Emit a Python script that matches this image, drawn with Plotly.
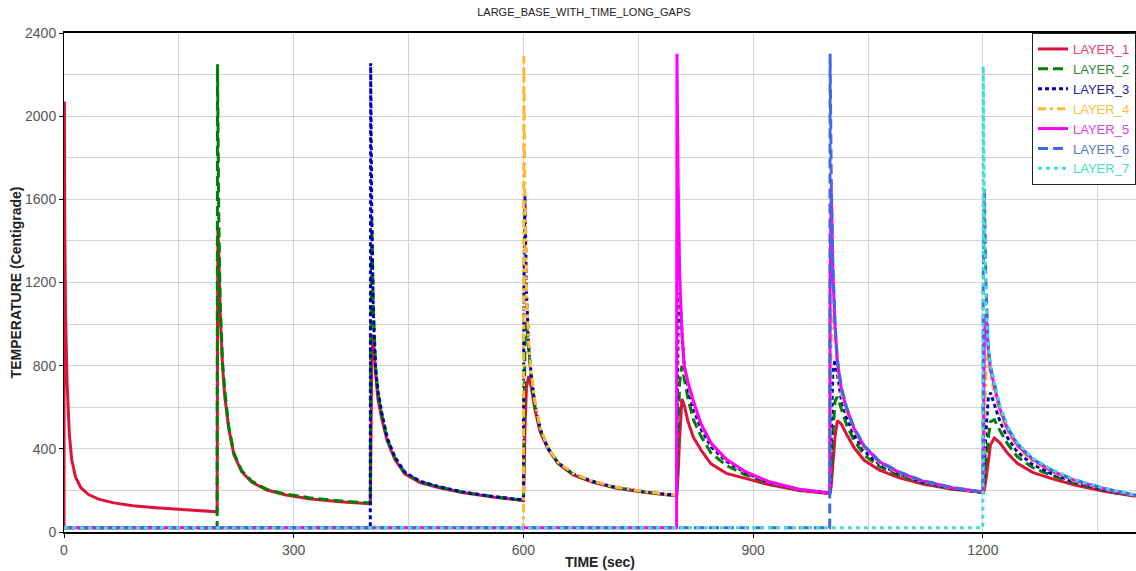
import plotly.graph_objects as go

# ---------------- data ----------------
TITLE = "LARGE_BASE_WITH_TIME_LONG_GAPS"
LAYER_NAMES = ["LAYER_1", "LAYER_2", "LAYER_3", "LAYER_4", "LAYER_5", "LAYER_6", "LAYER_7"]
SEGMENT_STARTS = [0, 200, 400, 600, 800, 1000, 1200]          # deposition time of each layer (sec)
TIME_OFFSETS = [0, 0.5, 1, 2, 4, 7, 10, 15, 22, 32, 45, 65, 90, 120, 160, 199.5]
AMBIENT = 20                                                  # temperature before a layer is deposited

# temperatures per segment (one row per segment from the layer's own deposition onward)
LAYER_1 = [
    [20, 2070, 1450, 1050, 720, 470, 350, 265, 213, 180, 158, 140, 126, 117, 106, 97],
    [97, 1000, 1450, 1350, 1050, 800, 650, 500, 370, 290, 240, 202, 178, 160, 146, 136],
    [136, 300, 550, 850, 950, 760, 640, 545, 440, 350, 280, 238, 213, 190, 168, 151],
    [151, 200, 300, 500, 700, 750, 700, 590, 480, 400, 330, 275, 240, 212, 190, 174],
    [174, 185, 210, 280, 450, 640, 610, 530, 455, 394, 328, 282, 258, 228, 199, 184],
    [184, 188, 195, 220, 320, 460, 535, 520, 470, 405, 345, 298, 262, 232, 205, 189],
    [189, 190, 193, 205, 250, 350, 420, 452, 430, 380, 330, 287, 257, 226, 195, 172],
]
LAYER_2 = [
    [20, 2250, 1900, 1550, 1100, 820, 680, 510, 378, 295, 245, 205, 182, 165, 150, 139],
    [139, 900, 1400, 1500, 1080, 790, 665, 565, 448, 358, 285, 242, 216, 192, 170, 153],
    [153, 350, 650, 900, 1010, 870, 740, 605, 490, 405, 333, 278, 243, 214, 191, 175],
    [175, 220, 320, 500, 720, 800, 740, 640, 540, 460, 380, 320, 275, 236, 203, 186],
    [186, 195, 220, 290, 460, 630, 650, 590, 515, 440, 370, 315, 273, 238, 208, 190],
    [190, 195, 205, 230, 320, 450, 530, 540, 490, 425, 362, 310, 272, 235, 200, 174],
]
LAYER_3 = [
    [20, 2255, 1900, 1500, 1050, 780, 680, 575, 455, 362, 288, 244, 218, 193, 171, 154],
    [154, 1100, 1550, 1620, 1150, 890, 760, 615, 495, 402, 334, 279, 244, 215, 192, 176],
    [176, 400, 700, 1000, 1150, 950, 800, 690, 590, 495, 410, 340, 284, 240, 205, 187],
    [187, 220, 320, 520, 760, 830, 760, 640, 550, 465, 390, 325, 280, 242, 210, 191],
    [191, 200, 225, 300, 480, 640, 670, 610, 535, 455, 385, 325, 280, 240, 202, 175],
]
LAYER_4 = [
    [20, 2290, 1950, 1600, 1150, 900, 770, 625, 500, 405, 336, 281, 245, 216, 193, 176],
    [176, 1200, 1600, 1650, 1220, 960, 790, 710, 620, 515, 425, 348, 289, 242, 206, 188],
    [188, 400, 700, 950, 1070, 930, 790, 670, 580, 487, 405, 333, 285, 245, 212, 192],
    [192, 220, 320, 520, 780, 860, 760, 670, 575, 482, 405, 340, 289, 245, 205, 176],
]
LAYER_5 = [
    [20, 2300, 2000, 1700, 1250, 950, 800, 720, 630, 520, 428, 350, 290, 243, 206, 188],
    [188, 1200, 1600, 1650, 1250, 990, 820, 690, 595, 497, 413, 338, 288, 247, 213, 193],
    [193, 400, 700, 950, 1050, 880, 780, 700, 595, 498, 418, 348, 294, 248, 207, 177],
]
LAYER_6 = [
    [20, 2300, 2000, 1700, 1300, 1000, 830, 700, 600, 500, 415, 340, 290, 248, 214, 193],
    [193, 1200, 1600, 1650, 1200, 900, 795, 715, 605, 505, 425, 352, 297, 250, 208, 177],
]
LAYER_7 = [
    [20, 2240, 1900, 1550, 1100, 900, 800, 720, 610, 510, 430, 355, 300, 252, 210, 178],
]
LAYERS = [LAYER_1, LAYER_2, LAYER_3, LAYER_4, LAYER_5, LAYER_6, LAYER_7]

X_TICKS = [0, 300, 600, 900, 1200]
Y_TICKS = [0, 400, 800, 1200, 1600, 2000, 2400]

# ---------------- styles ----------------
LINE_COLORS = ["#DC143C", "#007F00", "#0000B4", "#FFB830", "#FF00FF", "#4169E1", "#40E0D0"]
TEXT_COLORS = ["#E8406A", "#2E8B2E", "#2424A8", "#FFC040", "#E040E0", "#5A78C8", "#40E0C0"]
DASHES = ["solid", "10px,5px", "4px,3px", "8px,4px,3px,4px", "solid", "10px,5px", "4px,4px"]

FONT = "Arial, Liberation Sans, sans-serif"

fig = go.Figure()
for k, (name, segs) in enumerate(zip(LAYER_NAMES, LAYERS)):
    xs, ys = [], []
    if k > 0:
        xs += [0, SEGMENT_STARTS[k]]
        ys += [AMBIENT, AMBIENT]
    for j, vals in enumerate(segs):
        start = SEGMENT_STARTS[k + j]
        xs += [start + o for o in TIME_OFFSETS]
        ys += vals
    fig.add_trace(go.Scatter(
        x=xs, y=ys, mode="lines",
        name=f"<span style='color:{TEXT_COLORS[k]}'>{name}</span>",
        line=dict(color=LINE_COLORS[k], width=3, dash=DASHES[k]),
    ))

fig.update_layout(
    width=1136, height=571,
    margin=dict(l=64, r=0, t=33, b=39),
    paper_bgcolor="white", plot_bgcolor="white",
    font=dict(family=FONT, size=14, color="#555555"),
    title=dict(text=TITLE, x=0.514, xanchor="center", y=0.985, yanchor="top",
               font=dict(family=FONT, size=11, color="#222222")),
    showlegend=True,
    legend=dict(x=1, xanchor="right", y=1, yanchor="top",
                bgcolor="white", bordercolor="#222222", borderwidth=1,
                font=dict(family=FONT, size=13)),
)
fig.update_xaxes(
    range=[0, 1400], tickvals=X_TICKS, showgrid=True, gridcolor="#d4d4d4", gridwidth=1,
    minor=dict(dtick=150, tick0=0, showgrid=True, gridcolor="#d4d4d4", gridwidth=1),
    showline=True, linecolor="black", linewidth=2, mirror=True,
    ticks="outside", ticklen=4, tickcolor="black", zeroline=False,
    title=dict(text="<b>TIME (sec)</b>", font=dict(family=FONT, size=14, color="#222222"), standoff=0),
    tickfont=dict(size=14, color="#555555"),
)
fig.update_yaxes(
    range=[0, 2400], tickvals=Y_TICKS, showgrid=True, gridcolor="#d4d4d4", gridwidth=1,
    minor=dict(dtick=200, tick0=0, showgrid=True, gridcolor="#d4d4d4", gridwidth=1),
    showline=True, linecolor="black", linewidth=1, mirror=True,
    ticks="outside", ticklen=4, tickcolor="black", zeroline=False,
    title=dict(text="<b>TEMPERATURE (Centigrade)</b>", font=dict(family=FONT, size=14, color="#222222"), standoff=0),
    tickfont=dict(size=14, color="#555555"),
)

fig.write_html(
    "out.html",
    config={"displayModeBar": False},
    post_script="document.body.style.margin='0';document.body.style.overflow='hidden';",
)
